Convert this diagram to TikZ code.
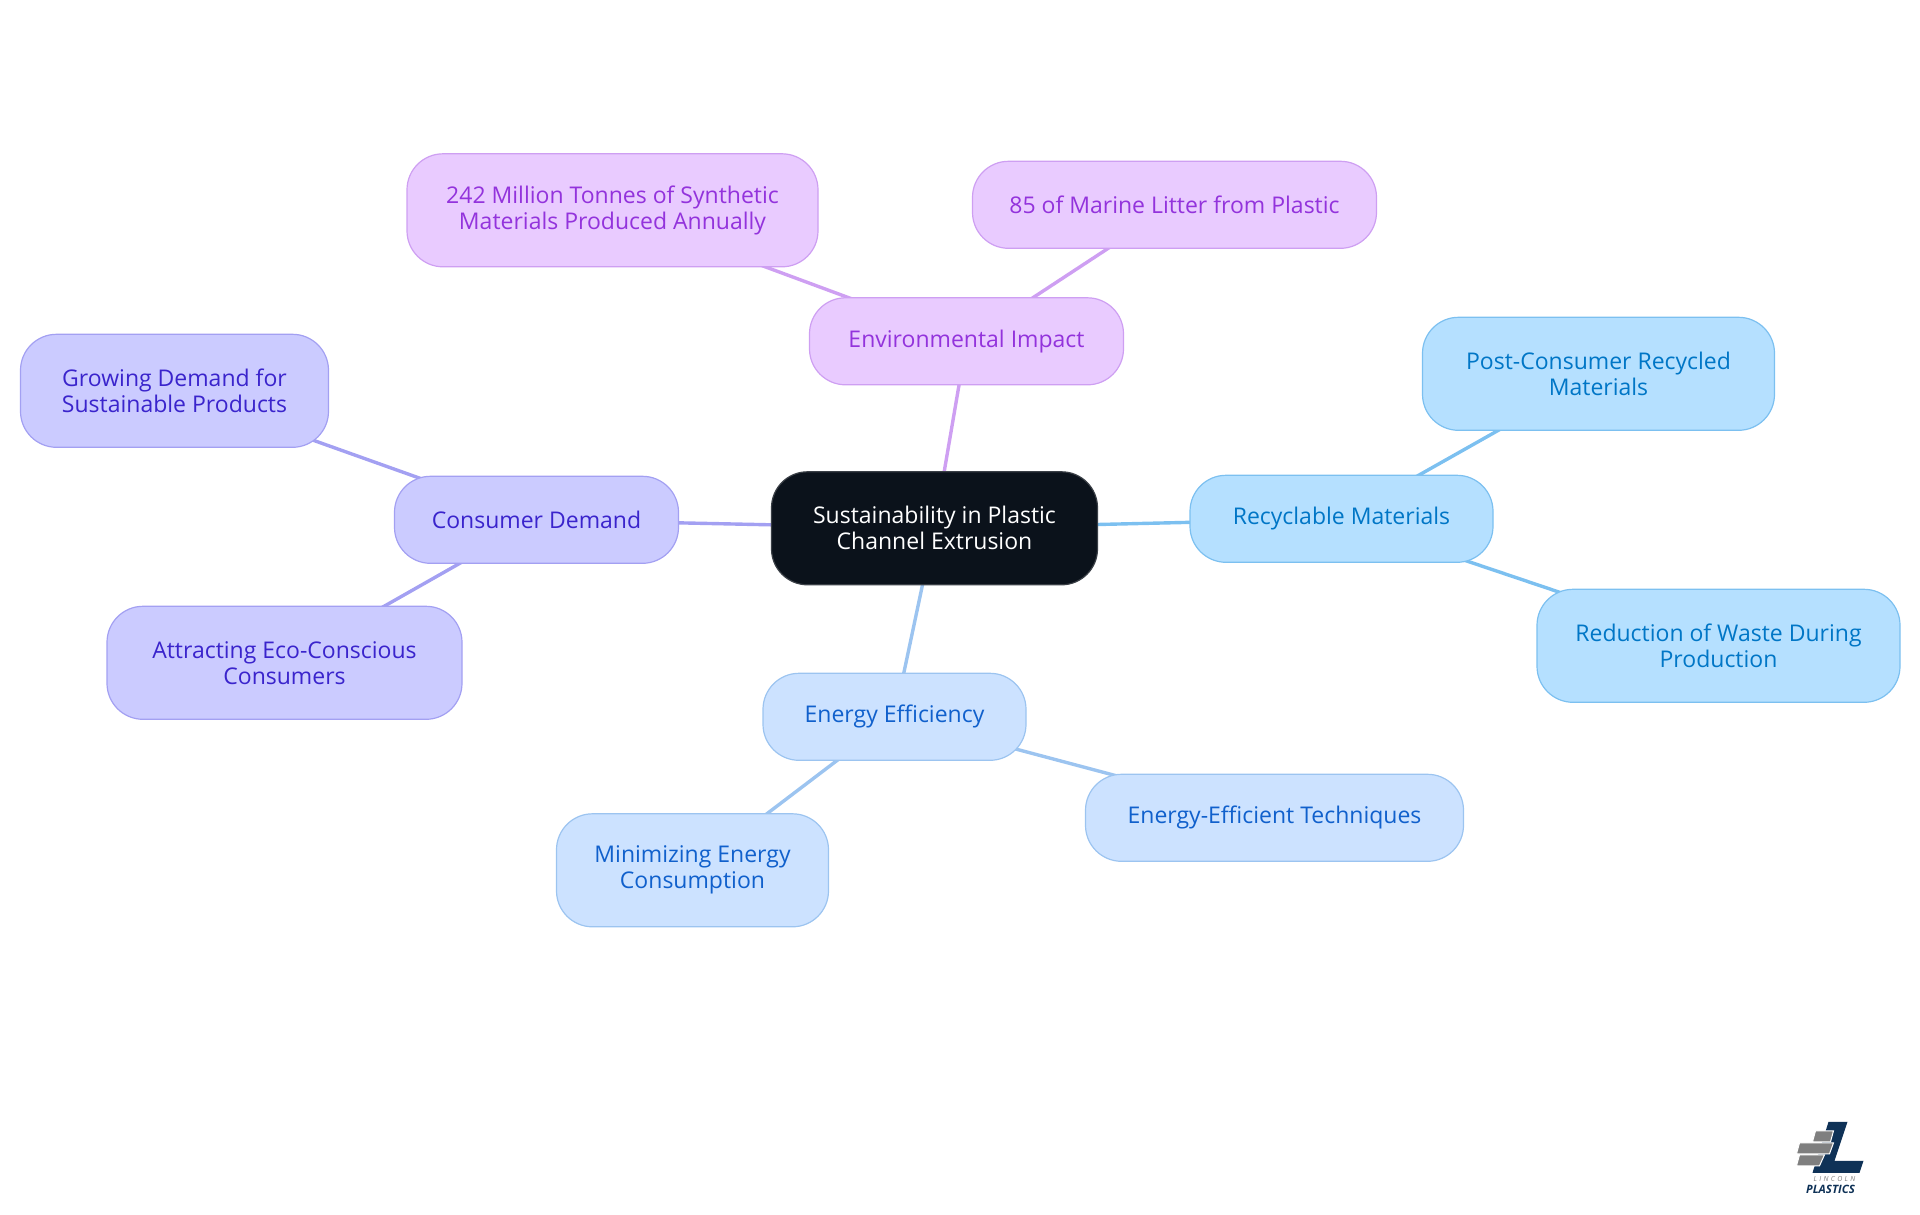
\documentclass[tikz,border=0pt]{standalone}
\usepackage{fontspec}
\setmainfont{Open Sans}
\pgfdeclarelayer{background}
\pgfsetlayers{background,main}
\definecolor{rootfill}{HTML}{0B121B}
\definecolor{rootline}{HTML}{3A3F46}
\definecolor{envfill}{HTML}{E9CBFF}
\definecolor{envline}{HTML}{CE9FF2}
\definecolor{envtext}{HTML}{9333DC}
\definecolor{demfill}{HTML}{CBCBFF}
\definecolor{demline}{HTML}{A3A0F2}
\definecolor{demtext}{HTML}{3A24CC}
\definecolor{recfill}{HTML}{B5E0FF}
\definecolor{recline}{HTML}{7CC0F0}
\definecolor{rectext}{HTML}{0076C6}
\definecolor{enefill}{HTML}{CCE2FF}
\definecolor{eneline}{HTML}{9CC4F0}
\definecolor{enetext}{HTML}{1060CC}
\definecolor{logoblue}{HTML}{0F3257}
\definecolor{logogray}{HTML}{7F7F7F}
\tikzset{
  mapnode/.style={rectangle,rounded corners=36pt,line width=1.2pt,inner sep=0pt,align=center,
    font=\fontsize{23}{26}\selectfont},
  rootnode/.style={mapnode,fill=rootfill,draw=rootline,text=white},
  envnode/.style={mapnode,fill=envfill,draw=envline,text=envtext},
  demnode/.style={mapnode,fill=demfill,draw=demline,text=demtext},
  recnode/.style={mapnode,fill=recfill,draw=recline,text=rectext},
  enenode/.style={mapnode,fill=enefill,draw=eneline,text=enetext},
  mapedge/.style={line width=3.4pt},
}
\begin{document}
\begin{tikzpicture}[x=1pt,y=-1pt]
	\useasboundingbox (-0.5,-0.8) rectangle (1919.5,1214.2);
	\node (root) at (934,527.5) [rootnode,minimum width=326pt,minimum height=113pt] {Sustainability in Plastic\\Channel Extrusion};
	\node (env) at (966,340.5) [envnode,minimum width=314pt,minimum height=87pt] {Environmental Impact};
	\node (tonnes) at (612,209.5) [envnode,minimum width=411pt,minimum height=113pt] {242 Million Tonnes of Synthetic\\Materials Produced Annually};
	\node (litter) at (1174,204) [envnode,minimum width=404pt,minimum height=87pt] {85 of Marine Litter from Plastic};
	\node (consumer) at (536,519) [demnode,minimum width=284pt,minimum height=87pt] {Consumer Demand};
	\node (growing) at (174,390) [demnode,minimum width=308pt,minimum height=113pt] {Growing Demand for\\Sustainable Products};
	\node (attracting) at (284,662) [demnode,minimum width=355pt,minimum height=113pt] {Attracting Eco-Conscious\\Consumers};
	\node (recyclable) at (1341,518) [recnode,minimum width=303pt,minimum height=87pt] {Recyclable Materials};
	\node (post) at (1598,373) [recnode,minimum width=352pt,minimum height=113pt] {Post-Consumer Recycled\\Materials};
	\node (reduction) at (1718,645) [recnode,minimum width=363pt,minimum height=113pt] {Reduction of Waste During\\Production};
	\node (energy) at (894,716) [enenode,minimum width=263pt,minimum height=87pt] {Energy Efficiency};
	\node (minimizing) at (692,869.5) [enenode,minimum width=272pt,minimum height=113pt] {Minimizing Energy\\Consumption};
	\node (techniques) at (1274,817) [enenode,minimum width=378pt,minimum height=87pt] {Energy-Efficient Techniques};
	\begin{pgfonlayer}{background}
		\draw [mapedge,envline] (root.center)--(env.center);
		\draw [mapedge,envline] (env.center)--(tonnes.center);
		\draw [mapedge,envline] (env.center)--(litter.center);
		\draw [mapedge,demline] (root.center)--(consumer.center);
		\draw [mapedge,demline] (consumer.center)--(growing.center);
		\draw [mapedge,demline] (consumer.center)--(attracting.center);
		\draw [mapedge,recline] (root.center)--(recyclable.center);
		\draw [mapedge,recline] (recyclable.center)--(post.center);
		\draw [mapedge,recline] (recyclable.center)--(reduction.center);
		\draw [mapedge,eneline] (root.center)--(energy.center);
		\draw [mapedge,eneline] (energy.center)--(minimizing.center);
		\draw [mapedge,eneline] (energy.center)--(techniques.center);
	\end{pgfonlayer}
	% logo
	\fill [logoblue] (1828,1121)--(1847,1121)--(1834,1160)--(1863,1160)--(1859,1172)--(1812,1172)--cycle;
	\filldraw [logogray,draw=white,line width=1pt] (1815,1130)--(1833,1130)--(1830,1141)--(1812,1141)--cycle;
	\filldraw [logogray,draw=white,line width=1pt] (1799,1142)--(1833,1142)--(1829,1153)--(1796,1153)--cycle;
	\filldraw [logogray,draw=white,line width=1pt] (1799,1154)--(1824,1154)--(1819,1165)--(1796,1165)--cycle;
	\node (lincoln) at (1834,1178) [inner sep=0pt,text=logogray,font=\fontsize{7}{8}\selectfont\itshape] {L\,\,I\,\,N\,\,C\,\,O\,\,L\,\,N};
	\node (plastics) at (1830,1188.5) [inner sep=0pt,text=logoblue,font=\fontsize{11.5}{12}\selectfont\bfseries\itshape] {PLASTICS};
\end{tikzpicture}
\end{document}
